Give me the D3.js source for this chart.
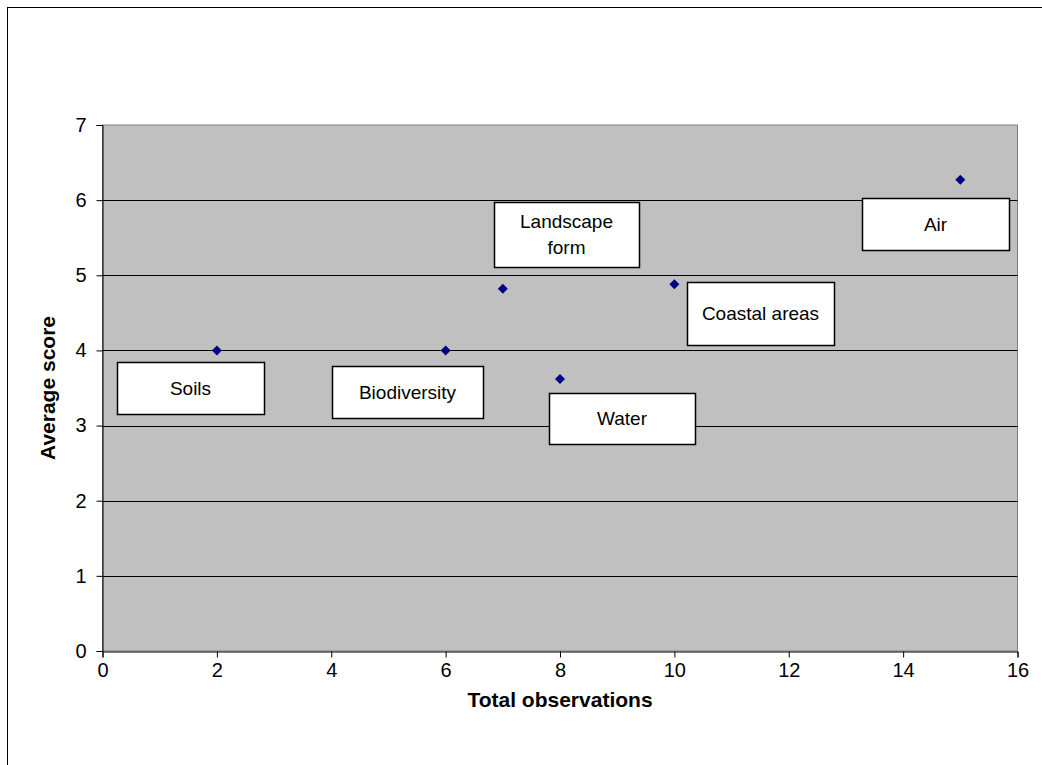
<!DOCTYPE html>
<html>
<head>
<meta charset="utf-8">
<script src="https://cdn.jsdelivr.net/npm/d3@7"></script>
<style>
  body { margin: 0; background: #fff; }
  svg { display: block; font-family: "Liberation Sans", Arial, sans-serif; }
</style>
</head>
<body>
<div id="chart"></div>
<script>
// data
var labels = ["Soils", "Biodiversity", "Landscape form", "Water", "Coastal areas", "Air"];
var observations = [2, 6, 7, 8, 10, 15];
var scores = [4.0, 4.0, 4.82, 3.62, 4.88, 6.27];
var xTicks = [0, 2, 4, 6, 8, 10, 12, 14, 16];
var yTicks = [0, 1, 2, 3, 4, 5, 6, 7];

// label box placement relative to its point (px): dx, dy of top-left, width, height
var boxes = [
    [-100, 12, 147, 52],
    [-114, 16, 151, 52],
    [-9, -87, 145, 65],
    [-11, 14, 146, 51],
    [13, -2, 147, 63],
    [-98, 18, 147, 52]
];

var width = 1042, height = 765;
var plotLeft = 102.5, plotRight = 1017.5, plotTop = 125, plotBottom = 651;

var svg = d3.select("#chart").append("svg")
    .attr("width", width)
    .attr("height", height);

// outer chart border (right/bottom run off the page)
svg.append("rect")
    .attr("x", 7.5).attr("y", 7.5)
    .attr("width", width + 20).attr("height", height + 20)
    .style("fill", "#fff")
    .style("stroke", "#000")
    .style("stroke-width", 1);

var x = d3.scaleLinear().domain([0, 16]).range([plotLeft, plotRight]);
var y = d3.scaleLinear().domain([0, 7]).range([plotBottom, plotTop]);

// plot area
svg.append("rect")
    .attr("x", plotLeft).attr("y", plotTop)
    .attr("width", plotRight - plotLeft).attr("height", plotBottom - plotTop)
    .style("fill", "#c0c0c0")
    .style("stroke", "#808080")
    .style("stroke-width", 1);

// gridlines
svg.selectAll("line.grid")
    .data(yTicks.filter(function(d) { return d > 0 && d < 7; }))
    .enter().append("line")
    .attr("class", "grid")
    .attr("x1", plotLeft).attr("x2", plotRight)
    .attr("y1", function(d) { return Math.round(y(d)) + 0.5; })
    .attr("y2", function(d) { return Math.round(y(d)) + 0.5; })
    .style("stroke", "#000")
    .style("stroke-width", 1);

// axes
var xAxis = svg.append("g")
    .attr("transform", "translate(0," + (plotBottom + 0.5) + ")")
    .call(d3.axisBottom(x).tickValues(xTicks).tickSize(6).tickPadding(3).tickFormat(d3.format("d")));
var yAxis = svg.append("g")
    .attr("transform", "translate(" + plotLeft + ",0)")
    .call(d3.axisLeft(y).tickValues(yTicks).tickSize(6).tickPadding(10).tickFormat(d3.format("d")));

[xAxis, yAxis].forEach(function(a) {
    a.attr("font-size", 20).attr("font-family", "'Liberation Sans', Arial, sans-serif");
    a.selectAll("text").style("fill", "#000");
    a.selectAll("line, path").style("stroke", "#000");
});
xAxis.selectAll("text").attr("dy", "0.8em");

// axis titles
svg.append("text")
    .attr("x", (plotLeft + plotRight) / 2)
    .attr("y", 700)
    .attr("dy", "0.35em")
    .attr("text-anchor", "middle")
    .style("font-size", "21px")
    .style("font-weight", "bold")
    .text("Total observations");

svg.append("text")
    .attr("transform", "translate(48," + ((plotTop + plotBottom) / 2) + ") rotate(-90)")
    .attr("dy", "0.35em")
    .attr("text-anchor", "middle")
    .style("font-size", "21px")
    .style("font-weight", "bold")
    .text("Average score");

// points
var pts = labels.map(function(d, i) {
    return { name: d, x: observations[i], y: scores[i], box: boxes[i] };
});

svg.selectAll("path.pt")
    .data(pts)
    .enter().append("path")
    .attr("class", "pt")
    .attr("d", "M0,-5L5,0L0,5L-5,0Z")
    .attr("transform", function(d) { return "translate(" + x(d.x) + "," + y(d.y) + ")"; })
    .style("fill", "#000080");

// data labels
var lab = svg.selectAll("g.lab")
    .data(pts)
    .enter().append("g")
    .attr("class", "lab")
    .attr("transform", function(d) {
        return "translate(" + Math.round(x(d.x) + d.box[0]) + "," + Math.round(y(d.y) + d.box[1]) + ")";
    });

lab.append("rect")
    .attr("x", 0.5).attr("y", 0.5)
    .attr("width", function(d) { return d.box[2]; })
    .attr("height", function(d) { return d.box[3]; })
    .style("fill", "#fff")
    .style("stroke", "#000")
    .style("stroke-width", 1.5);

lab.each(function(d) {
    var words = d.name === "Landscape form" ? ["Landscape", "form"] : [d.name];
    var g = d3.select(this);
    var cx = d.box[2] / 2, cy = d.box[3] / 2;
    words.forEach(function(w, k) {
        g.append("text")
            .attr("x", cx)
            .attr("y", cy + (k - (words.length - 1) / 2) * 26)
            .attr("dy", "0.35em")
            .attr("text-anchor", "middle")
            .style("font-size", "19px")
            .style("fill", "#000")
            .text(w);
    });
});
</script>
</body>
</html>
